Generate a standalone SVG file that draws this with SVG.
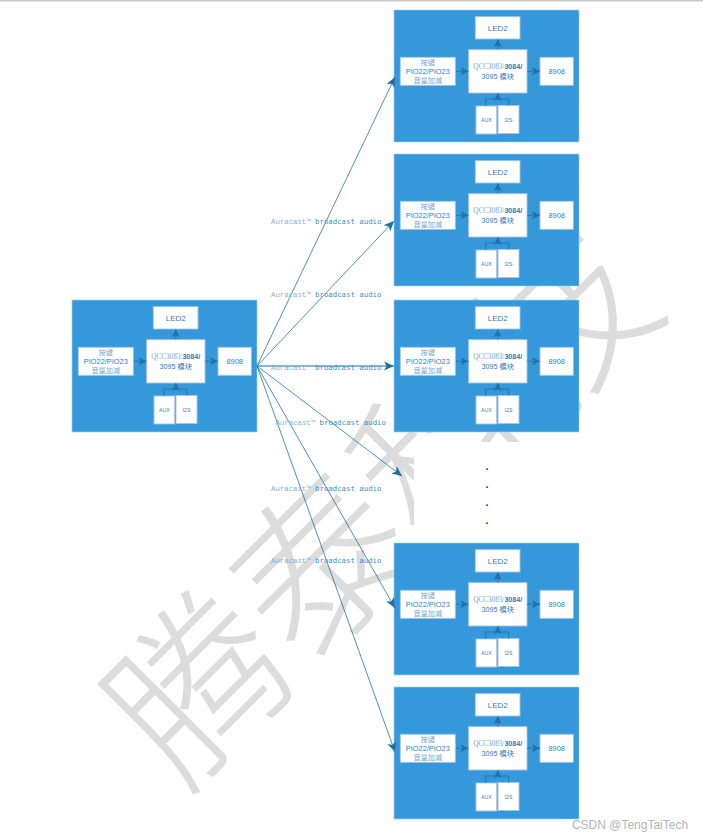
<svg xmlns="http://www.w3.org/2000/svg" width="703" height="838" viewBox="0 0 703 838">
<style>
.panel{fill:#3498db;stroke:#a9d0ee;stroke-width:.6}
.box{fill:#fff;stroke:#a6c6e6;stroke-width:.9}
text{font-family:"Liberation Sans","Noto Sans CJK SC",sans-serif;text-anchor:middle}
.t{font-size:7.4px;fill:#2f80bd}
.s{font-size:7.2px;fill:#2b7cb8}
.l{font-size:7.2px;fill:#7aa7cf;font-family:"Liberation Serif","Noto Sans CJK SC",serif}
.led{font-size:8px;fill:#2f80bd}
.m{font-size:5.2px;fill:#2f80bd}
.wire{fill:none;stroke:#2272a8;stroke-width:.9;marker-end:url(#a)}
.fan{fill:none;stroke:#2272a8;stroke-width:.8;marker-end:url(#b)}
.pl{fill:none;stroke:#2272a8;stroke-width:.8}
.lab{font-family:"DejaVu Sans Mono","Noto Sans CJK SC",monospace;font-size:7.35px;fill:#3b8fce;text-anchor:start}
.lab .a{fill:#7fb3dd;font-family:"Liberation Mono","Noto Sans CJK SC",monospace}
.dot{font-size:11px;font-weight:bold;fill:#333}
.wm{font-family:"Noto Sans CJK SC",sans-serif;font-size:172px;font-weight:300;fill:#dcdcdc;text-anchor:start}
</style>
<defs>
<marker id="a" markerUnits="userSpaceOnUse" markerWidth="10" markerHeight="10" refX="8" refY="4.5" orient="auto"><path d="M0,.5 L8,4.5 L0,8.5 L2,4.5 z" fill="#2272a8"/></marker>
<marker id="b" markerUnits="userSpaceOnUse" markerWidth="12" markerHeight="12" refX="10" refY="5" orient="auto"><path d="M0,.5 L10,5 L0,9.5 L2.5,5 z" fill="#1f6ea5"/></marker>
<g id="inner">
<path class="wire" d="M62,61.3H74.5"/>
<path class="wire" d="M133.2,61.3H146"/>
<path class="wire" d="M103.8,39.5V29.2"/>
<path class="pl" d="M91.7,96V89H114.7V95.5"/>
<path class="wire" d="M103.8,90V83"/>
</g>
</defs>
<rect width="703" height="838" fill="#fff"/>
<rect width="703" height="1.5" fill="#c8c8c8"/>
<text id="watermark" class="wm" transform="translate(183,792) rotate(-45)">腾泰科技</text>
<rect id="gap" x="414" y="442" width="170" height="102" fill="#fff"/>

<g id="module-source" transform="translate(72,300)">
<rect class="panel" width="185" height="132"/>
<g id="source-led"><rect class="box" x="81.3" y="6.7" width="44.7" height="22.3"/><text class="led" x="103.7" y="21">LED2</text></g>
<g id="source-key"><rect class="box" x="6.3" y="47.3" width="55" height="28"/><text class="l" x="33.8" y="55">按键</text><text class="t" x="33.8" y="64">PIO22/PIO23</text><text class="l" x="33.8" y="73">音量加减</text></g>
<g id="source-qcc"><rect class="box" x="74.7" y="39.7" width="58.3" height="43.3"/><text x="103.8" y="59.3"><tspan class="l">QCC3083/</tspan><tspan class="s" font-weight="bold">3084/</tspan></text><text class="s" x="103.8" y="69.3">3095 模块</text></g>
<g id="source-amp"><rect class="box" x="146" y="47.3" width="33.3" height="28"/><text class="t" x="162.7" y="64">8908</text></g>
<g id="source-aux"><rect class="box" x="82" y="96" width="20.7" height="28"/><text class="m" x="92.3" y="112">AUX</text></g>
<g id="source-i2s"><rect class="box" x="104" y="95.5" width="21" height="28"/><text class="m" x="114.5" y="111.5">I2S</text></g>
</g>

<g id="module-1" transform="translate(394,10)">
<rect class="panel" width="185" height="132"/>
<g id="m1-led"><rect class="box" x="81.3" y="6.7" width="44.7" height="22.3"/><text class="led" x="103.7" y="21">LED2</text></g>
<g id="m1-key"><rect class="box" x="6.3" y="47.3" width="55" height="28"/><text class="l" x="33.8" y="55">按键</text><text class="t" x="33.8" y="64">PIO22/PIO23</text><text class="l" x="33.8" y="73">音量加减</text></g>
<g id="m1-qcc"><rect class="box" x="74.7" y="39.7" width="58.3" height="43.3"/><text x="103.8" y="59.3"><tspan class="l">QCC3083/</tspan><tspan class="s" font-weight="bold">3084/</tspan></text><text class="s" x="103.8" y="69.3">3095 模块</text></g>
<g id="m1-amp"><rect class="box" x="146" y="47.3" width="33.3" height="28"/><text class="t" x="162.7" y="64">8908</text></g>
<g id="m1-aux"><rect class="box" x="82" y="96" width="20.7" height="28"/><text class="m" x="92.3" y="112">AUX</text></g>
<g id="m1-i2s"><rect class="box" x="104" y="95.5" width="21" height="28"/><text class="m" x="114.5" y="111.5">I2S</text></g>
</g>

<g id="module-2" transform="translate(394,154)">
<rect class="panel" width="185" height="132"/>
<g id="m2-led"><rect class="box" x="81.3" y="6.7" width="44.7" height="22.3"/><text class="led" x="103.7" y="21">LED2</text></g>
<g id="m2-key"><rect class="box" x="6.3" y="47.3" width="55" height="28"/><text class="l" x="33.8" y="55">按键</text><text class="t" x="33.8" y="64">PIO22/PIO23</text><text class="l" x="33.8" y="73">音量加减</text></g>
<g id="m2-qcc"><rect class="box" x="74.7" y="39.7" width="58.3" height="43.3"/><text x="103.8" y="59.3"><tspan class="l">QCC3083/</tspan><tspan class="s" font-weight="bold">3084/</tspan></text><text class="s" x="103.8" y="69.3">3095 模块</text></g>
<g id="m2-amp"><rect class="box" x="146" y="47.3" width="33.3" height="28"/><text class="t" x="162.7" y="64">8908</text></g>
<g id="m2-aux"><rect class="box" x="82" y="96" width="20.7" height="28"/><text class="m" x="92.3" y="112">AUX</text></g>
<g id="m2-i2s"><rect class="box" x="104" y="95.5" width="21" height="28"/><text class="m" x="114.5" y="111.5">I2S</text></g>
</g>

<g id="module-3" transform="translate(394,300)">
<rect class="panel" width="185" height="132"/>
<g id="m3-led"><rect class="box" x="81.3" y="6.7" width="44.7" height="22.3"/><text class="led" x="103.7" y="21">LED2</text></g>
<g id="m3-key"><rect class="box" x="6.3" y="47.3" width="55" height="28"/><text class="l" x="33.8" y="55">按键</text><text class="t" x="33.8" y="64">PIO22/PIO23</text><text class="l" x="33.8" y="73">音量加减</text></g>
<g id="m3-qcc"><rect class="box" x="74.7" y="39.7" width="58.3" height="43.3"/><text x="103.8" y="59.3"><tspan class="l">QCC3083/</tspan><tspan class="s" font-weight="bold">3084/</tspan></text><text class="s" x="103.8" y="69.3">3095 模块</text></g>
<g id="m3-amp"><rect class="box" x="146" y="47.3" width="33.3" height="28"/><text class="t" x="162.7" y="64">8908</text></g>
<g id="m3-aux"><rect class="box" x="82" y="96" width="20.7" height="28"/><text class="m" x="92.3" y="112">AUX</text></g>
<g id="m3-i2s"><rect class="box" x="104" y="95.5" width="21" height="28"/><text class="m" x="114.5" y="111.5">I2S</text></g>
</g>

<g id="module-4" transform="translate(394,543)">
<rect class="panel" width="185" height="132"/>
<g id="m4-led"><rect class="box" x="81.3" y="6.7" width="44.7" height="22.3"/><text class="led" x="103.7" y="21">LED2</text></g>
<g id="m4-key"><rect class="box" x="6.3" y="47.3" width="55" height="28"/><text class="l" x="33.8" y="55">按键</text><text class="t" x="33.8" y="64">PIO22/PIO23</text><text class="l" x="33.8" y="73">音量加减</text></g>
<g id="m4-qcc"><rect class="box" x="74.7" y="39.7" width="58.3" height="43.3"/><text x="103.8" y="59.3"><tspan class="l">QCC3083/</tspan><tspan class="s" font-weight="bold">3084/</tspan></text><text class="s" x="103.8" y="69.3">3095 模块</text></g>
<g id="m4-amp"><rect class="box" x="146" y="47.3" width="33.3" height="28"/><text class="t" x="162.7" y="64">8908</text></g>
<g id="m4-aux"><rect class="box" x="82" y="96" width="20.7" height="28"/><text class="m" x="92.3" y="112">AUX</text></g>
<g id="m4-i2s"><rect class="box" x="104" y="95.5" width="21" height="28"/><text class="m" x="114.5" y="111.5">I2S</text></g>
</g>

<g id="module-5" transform="translate(394,687)">
<rect class="panel" width="185" height="132"/>
<g id="m5-led"><rect class="box" x="81.3" y="6.7" width="44.7" height="22.3"/><text class="led" x="103.7" y="21">LED2</text></g>
<g id="m5-key"><rect class="box" x="6.3" y="47.3" width="55" height="28"/><text class="l" x="33.8" y="55">按键</text><text class="t" x="33.8" y="64">PIO22/PIO23</text><text class="l" x="33.8" y="73">音量加减</text></g>
<g id="m5-qcc"><rect class="box" x="74.7" y="39.7" width="58.3" height="43.3"/><text x="103.8" y="59.3"><tspan class="l">QCC3083/</tspan><tspan class="s" font-weight="bold">3084/</tspan></text><text class="s" x="103.8" y="69.3">3095 模块</text></g>
<g id="m5-amp"><rect class="box" x="146" y="47.3" width="33.3" height="28"/><text class="t" x="162.7" y="64">8908</text></g>
<g id="m5-aux"><rect class="box" x="82" y="96" width="20.7" height="28"/><text class="m" x="92.3" y="112">AUX</text></g>
<g id="m5-i2s"><rect class="box" x="104" y="95.5" width="21" height="28"/><text class="m" x="114.5" y="111.5">I2S</text></g>
</g>

<g id="connectors">
<use href="#inner" x="72" y="300"/>
<use href="#inner" x="394" y="10"/>
<use href="#inner" x="394" y="154"/>
<use href="#inner" x="394" y="300"/>
<use href="#inner" x="394" y="543"/>
<use href="#inner" x="394" y="687"/>
<path class="fan" d="M257,366L395,77"/>
<path class="fan" d="M257,366L394,221"/>
<path class="fan" style="stroke:#5b9fd0;stroke-width:1.3" d="M257,366L394,366"/>
<path class="fan" d="M257,366L402,476"/>
<path class="fan" d="M257,366L395,608"/>
<path class="fan" d="M257,366L395,752"/>
</g>

<g id="labels">
<text class="lab" x="271" y="223.5"><tspan class="a">Auracast™</tspan> broadcast audio</text>
<text class="lab" x="271" y="296.8"><tspan class="a">Auracast™</tspan> broadcast audio</text>
<text class="lab" x="271" y="369.5"><tspan class="a">Auracast™</tspan> broadcast audio</text>
<text class="lab" x="275.5" y="424.5"><tspan class="a">Auracast™</tspan> broadcast audio</text>
<text class="lab" x="271" y="490.8"><tspan class="a">Auracast™</tspan> broadcast audio</text>
<text class="lab" x="271" y="562.8"><tspan class="a">Auracast™</tspan> broadcast audio</text>
</g>

<g id="ellipsis">
<text class="dot" x="487" y="469.5">.</text>
<text class="dot" x="487" y="487.5">.</text>
<text class="dot" x="487" y="505.5">.</text>
<text class="dot" x="487" y="523.5">.</text>
</g>
<text id="credit" x="630" y="829" font-size="12" fill="#b4b4b4">CSDN @TengTaiTech</text>
</svg>
